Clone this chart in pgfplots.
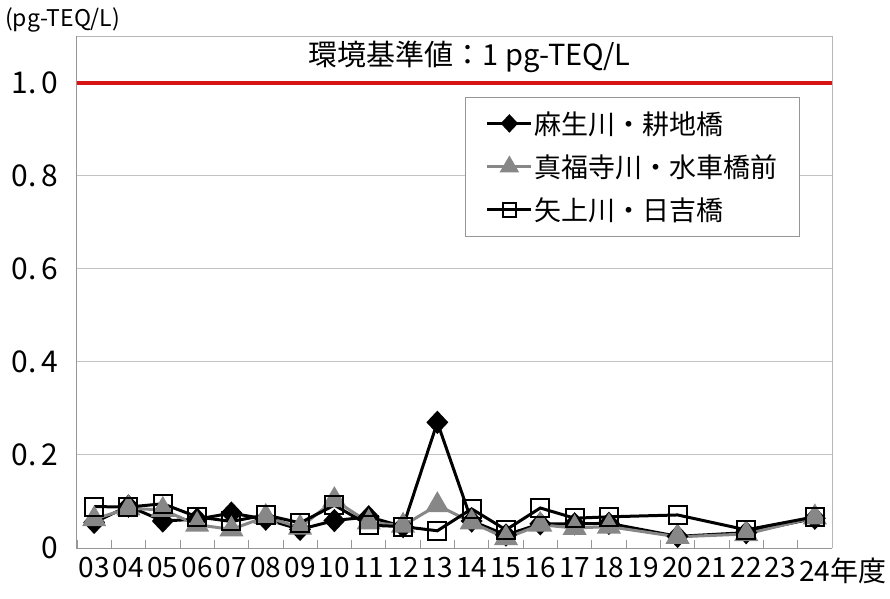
\documentclass[border=0pt]{standalone}
\usepackage{fontspec}
\setmainfont{Noto Sans CJK JP}
\usepackage{pgfplots}
\pgfplotsset{compat=1.18}
\definecolor{refred}{RGB}{215,20,20}
\definecolor{sergray}{RGB}{135,135,135}
\definecolor{gridgray}{RGB}{195,195,195}
\definecolor{framegray}{RGB}{150,150,150}
\begin{document}
\begin{tikzpicture}
\useasboundingbox (-77pt,-50pt) rectangle (813pt,548pt);
\begin{axis}[
  at={(0pt,0pt)}, anchor=south west,
  scale only axis, width=755pt, height=512pt,
  xmin=-0.5, xmax=21.5, ymin=0, ymax=1.1,
  axis line style={draw=none},
  xtick={0,...,21},
  xticklabels={03,04,05,06,07,08,09,10,11,12,13,14,15,16,17,18,19,20,21,22,23,24\rlap{年度}},
  major x tick style={draw=none},
  minor xtick={-0.5,0.5,...,21.5},
  minor tick length=8pt,
  minor tick style={framegray, line width=0.8pt},
  tick align=inside,
  xtick pos=bottom, ytick pos=left,
  ytick={0,0.2,0.4,0.6,0.8,1.0},
  yticklabels={0,0.\,2,0.\,4,0.\,6,0.\,8,1.\,0},
  major y tick style={draw=none},
  ymajorgrids, grid style={gridgray, line width=1pt},
  xticklabel style={font=\fontsize{28}{28}\selectfont, yshift=-6pt, inner xsep=0pt},
  yticklabel style={font=\fontsize{30}{30}\selectfont, xshift=-15pt},
  legend style={at={(0.958,0.881)}, anchor=north east, draw=framegray, line width=0.8pt,
    font=\fontsize{27}{31}\selectfont, row sep=15pt, inner xsep=20pt, inner ysep=12pt,
    cells={anchor=west}},
  legend cell align=left,
  legend image code/.code={\draw[#1, /tikz/every mark/.append style={scale=0.75}, mark repeat=2, mark phase=2] plot coordinates {(0pt,0pt) (22pt,0pt) (44pt,0pt)};},
  clip=false,
]
\draw[framegray!70, line width=0.8pt] (rel axis cs:0,1) -- (rel axis cs:1,1) -- (rel axis cs:1,0);
\draw[framegray, line width=1pt] (rel axis cs:0,1) -- (rel axis cs:0,0) -- (rel axis cs:1,0);
\addplot[refred, line width=4pt, forget plot] coordinates {(-0.5,1) (21.5,1)};

\addplot[black, line width=3pt, mark=diamond*, mark size=9.5pt, mark options={solid, fill=black, xscale=1.25}]
coordinates {
(0,0.055) (1,0.090) (2,0.058) (3,0.062) (4,0.075) (5,0.062) (6,0.040) (7,0.059)
(8,0.067) (9,0.046) (10,0.270) (11,0.058) (12,0.028) (13,0.052) (14,0.052) (15,0.053)
(17,0.025) (19,0.033) (21,0.064)
};
\addlegendentry{麻生川・耕地橋}

\addplot[sergray, line width=3pt, mark=triangle*, mark size=11pt, mark options={solid, fill=sergray}]
coordinates {
(0,0.062) (1,0.085) (2,0.082) (3,0.050) (4,0.040) (5,0.067) (6,0.044) (7,0.103)
(8,0.055) (9,0.048) (10,0.092) (11,0.055) (12,0.021) (13,0.050) (14,0.043) (15,0.046)
(17,0.024) (19,0.030) (21,0.066)
};
\addlegendentry{真福寺川・水車橋前}

\addplot[black, line width=3pt, mark=square, mark size=9pt, mark options={solid, line width=2pt}]
coordinates {
(0,0.089) (1,0.088) (2,0.095) (3,0.067) (4,0.057) (5,0.071) (6,0.054) (7,0.092)
(8,0.049) (9,0.046) (10,0.037) (11,0.084) (12,0.039) (13,0.086) (14,0.064) (15,0.067)
(17,0.071) (19,0.039) (21,0.067)
};
\addlegendentry{矢上川・日吉橋}

\node[font=\fontsize{29}{32}\selectfont] at (rel axis cs:0.52,0.959) {環境基準値：1 pg-TEQ/L};
\end{axis}
\node[anchor=north west, font=\fontsize{23}{26}\selectfont, inner sep=0pt] at (-72pt,541pt) {(pg-TEQ/L)};
\end{tikzpicture}
\end{document}
